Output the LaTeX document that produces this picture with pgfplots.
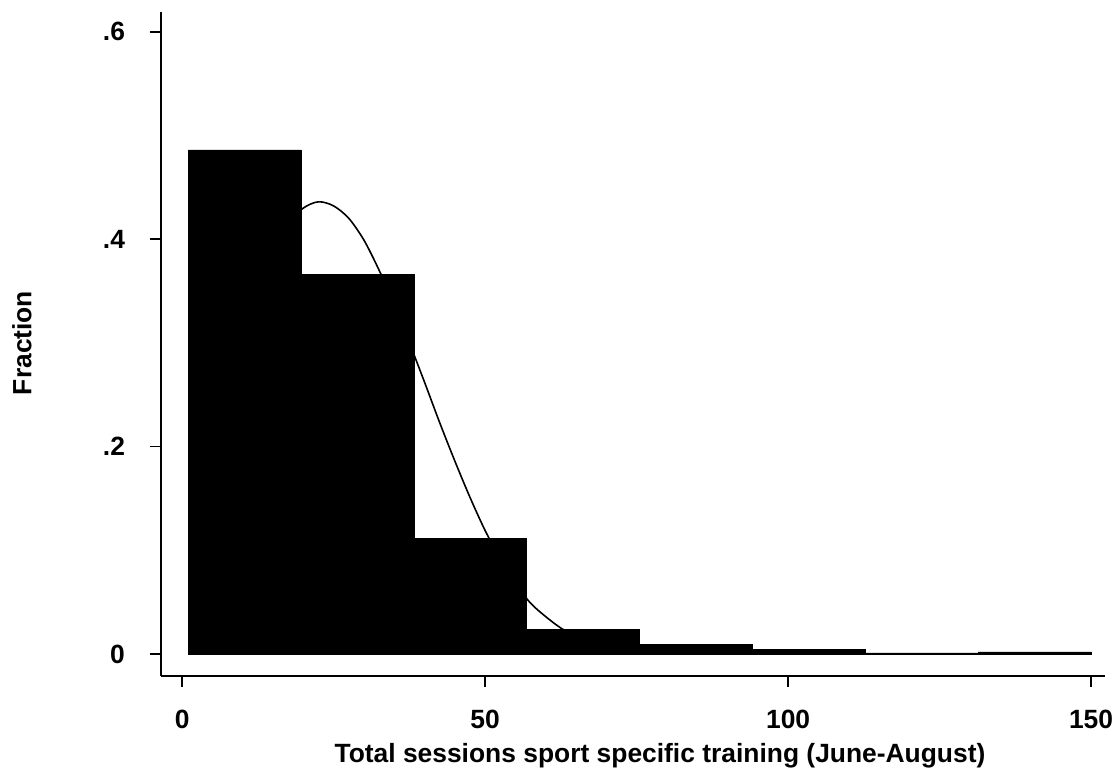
\documentclass[border=0pt]{standalone}
\usepackage{fontspec}
\setmainfont{Liberation Sans}
\usepackage{pgfplots}
\pgfplotsset{compat=1.18}
\begin{document}
\begin{tikzpicture}
\path[use as bounding box] (-80.5pt,-47pt) rectangle (476pt,338pt);
\begin{axis}[
  at={(0,0)}, anchor=south west,
  scale only axis, width=472pt, height=332pt,
  xmin=-3.5, xmax=152.3, ymin=-0.0212, ymax=0.619,
  axis x line=bottom, axis y line=left,
  axis line style={-, line width=0.9pt},
  tick align=outside, major tick length=5.5pt,
  tick style={line width=0.9pt, black},
  xtick={0,50,100,150}, xticklabels={0,50,100,150},
  ytick={0,0.2,0.4,0.6}, yticklabels={0,.2,.4,.6},
  tick label style={font=\fontsize{13.2}{15}\selectfont\bfseries},
  xticklabel style={yshift=-8pt},
  yticklabel style={xshift=-9pt},
  xlabel={Total sessions sport specific training (June-August)},
  ylabel={Fraction},
  label style={font=\fontsize{13.2}{15}\selectfont\bfseries},
  xlabel style={at={(axis description cs:0.5286,0)}, anchor=center, yshift=-40pt},
  ylabel style={at={(axis description cs:-0.1472,0.5015)}, anchor=center, rotate=0},
  clip=false,
]
\addplot[black, line width=0.8pt, smooth] coordinates {
(5,0.252) (10,0.328) (15,0.392) (17.5,0.415) (20,0.430) (22.5,0.436)
(25,0.432) (27.5,0.420) (30,0.399) (32.5,0.370) (35,0.337) (37.5,0.300)
(40,0.262) (42.5,0.223) (45,0.186) (47.5,0.151) (50,0.119) (52.5,0.092)
(55,0.068) (57.5,0.049) (60,0.036) (62.5,0.025) (65,0.017) (67.5,0.011)
(70,0.007) (75,0.0025) (80,0.0008) (90,0.0001) (100,0) (149,0)
};
\addplot[ybar interval, fill=black, draw=black] coordinates {
(1,0.486) (19.625,0.366) (38.25,0.111) (56.875,0.024) (75.5,0.009)
(94.125,0.004) (112.75,0.001) (131.375,0.002) (150,0.002)
};
\end{axis}
\end{tikzpicture}
\end{document}
